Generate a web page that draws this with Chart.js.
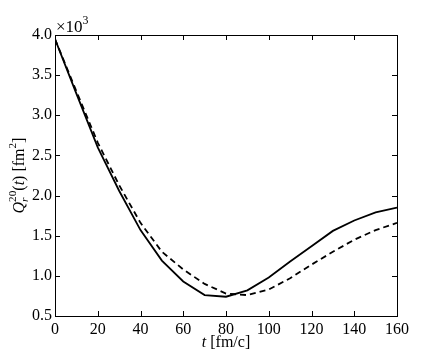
<!DOCTYPE html>
<html>
<head>
<meta charset="utf-8">
<script src="https://cdn.jsdelivr.net/npm/chart.js@4/dist/chart.umd.min.js"></script>
<style>
  html, body { margin: 0; padding: 0; background: #fff; }
</style>
</head>
<body>
<canvas id="qChart" width="442" height="353"></canvas>
<script>
// time axis [fm/c]
const tValues = [0, 10, 20, 30, 40, 50, 60, 70, 80, 90, 100, 110, 120, 130, 140, 150, 160];
// quadrupole moment, units of 10^3 fm^2
const solidQ  = [3.95, 3.27, 2.60, 2.06, 1.57, 1.19, 0.93, 0.76, 0.74, 0.82, 0.98, 1.18, 1.37, 1.56, 1.69, 1.79, 1.85];
const dashedQ = [3.95, 3.30, 2.66, 2.13, 1.66, 1.30, 1.08, 0.90, 0.78, 0.76, 0.83, 0.97, 1.14, 1.30, 1.45, 1.57, 1.66];
const xTicks = [0, 20, 40, 60, 80, 100, 120, 140, 160];
const yTicks = [0.5, 1.0, 1.5, 2.0, 2.5, 3.0, 3.5, 4.0];

const FONT = '"Liberation Serif", "DejaVu Serif", serif';

// draws a run of text pieces (italic / sub / sup); a piece with stack:true
// starts at the same x as the one before it (sub + sup on top of each other)
function drawRich(ctx, parts, size, align) {
    const fontOf = p => (p.it ? 'italic ' : '') + (size * (p.sc || 1)) + 'px ' + FONT;
    const widths = parts.map(p => { ctx.font = fontOf(p); return ctx.measureText(p.s).width; });
    let total = 0, prevStart = 0, prevW = 0;
    parts.forEach((p, i) => {
        if (p.stack) { total = prevStart + Math.max(prevW, widths[i]); }
        else { prevStart = total; prevW = widths[i]; total += widths[i]; }
    });
    let x = align === 'center' ? -total / 2 : 0;
    const x0 = x;
    prevStart = 0; prevW = 0;
    let cur = 0;
    parts.forEach((p, i) => {
        ctx.font = fontOf(p);
        if (p.stack) {
            ctx.fillText(p.s, x0 + prevStart, p.dy || 0);
            cur = prevStart + Math.max(prevW, widths[i]);
        } else {
            prevStart = cur; prevW = widths[i];
            ctx.fillText(p.s, x0 + cur, p.dy || 0);
            cur += widths[i];
        }
    });
}

const framePlugin = {
    id: 'frame',
    afterDraw(chart) {
        const { ctx, chartArea: a, scales: { x, y } } = chart;
        ctx.save();
        ctx.strokeStyle = '#000';
        ctx.lineWidth = 1;
        ctx.strokeRect(a.left + 0.5, a.top + 0.5, a.right - a.left, a.bottom - a.top);

        // inward ticks on all four sides
        ctx.beginPath();
        xTicks.forEach(v => {
            const px = Math.round(x.getPixelForValue(v)) + 0.5;
            ctx.moveTo(px, a.bottom); ctx.lineTo(px, a.bottom - 5);
            ctx.moveTo(px, a.top); ctx.lineTo(px, a.top + 5);
        });
        yTicks.forEach(v => {
            const py = Math.round(y.getPixelForValue(v)) + 0.5;
            ctx.moveTo(a.left, py); ctx.lineTo(a.left + 5, py);
            ctx.moveTo(a.right, py); ctx.lineTo(a.right - 5, py);
        });
        ctx.stroke();

        ctx.fillStyle = '#000';
        ctx.textBaseline = 'alphabetic';
        ctx.textAlign = 'left';

        // offset text
        ctx.save();
        ctx.translate(a.left + 1, a.top - 3);
        drawRich(ctx, [{ s: '\u00d710' }, { s: '3', sc: 0.7, dy: -8 }], 17, 'left');
        ctx.restore();

        // x title
        ctx.save();
        ctx.translate((a.left + a.right) / 2, 347);
        drawRich(ctx, [{ s: 't', it: true }, { s: ' [fm/c]' }], 16, 'center');
        ctx.restore();

        // y title
        ctx.save();
        ctx.translate(24, (a.top + a.bottom) / 2);
        ctx.rotate(-Math.PI / 2);
        drawRich(ctx, [
            { s: 'Q', it: true },
            { s: 'r', it: true, sc: 0.7, dy: 4 },
            { s: '20', sc: 0.7, dy: -8, stack: true },
            { s: '(' },
            { s: 't', it: true },
            { s: ') [fm' },
            { s: '2', sc: 0.7, dy: -8 },
            { s: ']' }
        ], 16, 'center');
        ctx.restore();

        ctx.restore();
    }
};

const toPoints = ys => tValues.map((t, i) => ({ x: t, y: ys[i] }));

new Chart(document.getElementById('qChart'), {
    type: 'line',
    data: {
        datasets: [
            {
                data: toPoints(solidQ),
                borderColor: '#000',
                borderWidth: 1.8,
                pointRadius: 0,
                tension: 0,
                fill: false
            },
            {
                data: toPoints(dashedQ),
                borderColor: '#000',
                borderWidth: 1.8,
                borderDash: [6, 4],
                pointRadius: 0,
                tension: 0,
                fill: false
            }
        ]
    },
    options: {
        responsive: false,
        animation: false,
        devicePixelRatio: 1,
        layout: { padding: { top: 35, right: 45, left: 0, bottom: 0 } },
        plugins: { legend: { display: false }, tooltip: { enabled: false } },
        scales: {
            x: {
                type: 'linear',
                min: 0,
                max: 160,
                afterFit: s => { s.height = 37; },
                afterBuildTicks: s => { s.ticks = xTicks.map(v => ({ value: v })); },
                grid: { display: false, drawTicks: false },
                border: { display: false },
                ticks: {
                    color: '#000',
                    padding: 4,
                    maxRotation: 0,
                    font: { family: FONT, size: 16 },
                    callback: v => String(v)
                }
            },
            y: {
                min: 0.5,
                max: 4.0,
                afterFit: s => { s.width = 55; },
                afterBuildTicks: s => { s.ticks = yTicks.map(v => ({ value: v })); },
                grid: { display: false, drawTicks: false },
                border: { display: false },
                ticks: {
                    color: '#000',
                    padding: 3,
                    font: { family: FONT, size: 16 },
                    callback: v => Number(v).toFixed(1)
                }
            }
        }
    },
    plugins: [framePlugin]
});
</script>
</body>
</html>
